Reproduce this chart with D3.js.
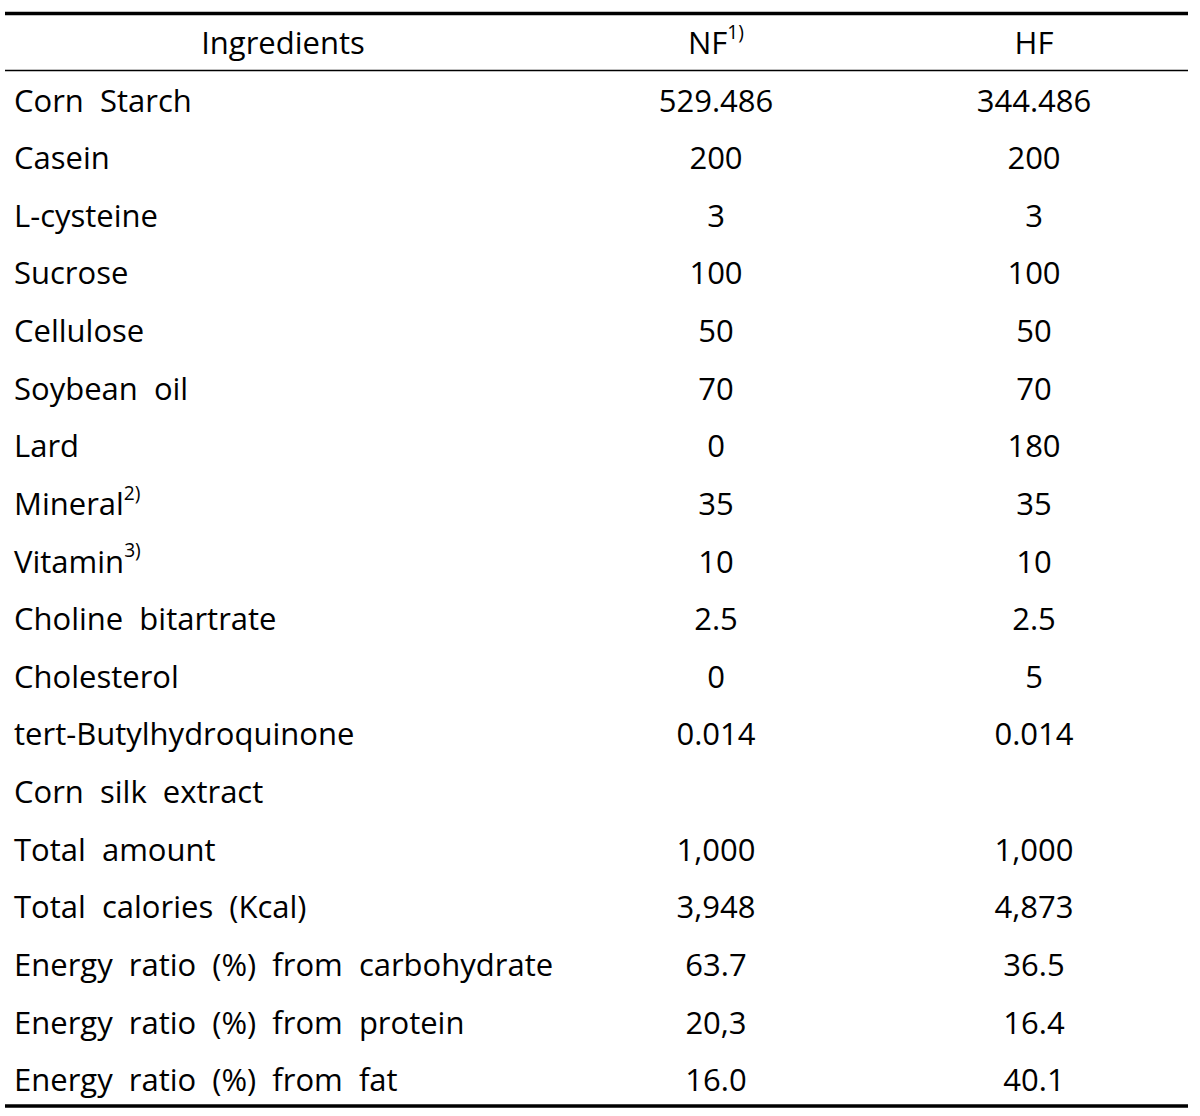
<!DOCTYPE html>
<html><head><meta charset="utf-8">
<script src="https://cdn.jsdelivr.net/npm/d3@7"></script>
<style>body{margin:0;background:#fff}</style>
</head><body>
<svg id="c" width="1200" height="1116"></svg>
<script>
const headers = ["Ingredients", "NF", "HF"];
const headerSup = ["", "1)", ""];
const categories = ["Corn  Starch","Casein","L-cysteine","Sucrose","Cellulose","Soybean  oil","Lard","Mineral","Vitamin","Choline  bitartrate","Cholesterol","tert-Butylhydroquinone","Corn  silk  extract","Total  amount","Total  calories  (Kcal)","Energy  ratio  (%)  from  carbohydrate","Energy  ratio  (%)  from  protein","Energy  ratio  (%)  from  fat"];
const categorySup = ["","","","","","","","2)","3)","","","","","","","","",""];
const nfValues = ["529.486","200","3","100","50","70","0","35","10","2.5","0","0.014","","1,000","3,948","63.7","20,3","16.0"];
const hfValues = ["344.486","200","3","100","50","70","180","35","10","2.5","5","0.014","","1,000","4,873","36.5","16.4","40.1"];

const svg = d3.select("#c");
const font = "'Open Sans', sans-serif";
const fs = 31;
const rows = ["__header"].concat(categories.map((d,i)=>"r"+i));
const y = d3.scaleBand().domain(rows).range([14, 1108.8]);
const x = d3.scaleOrdinal().domain(["cat","nf","hf"]).range([14, 716, 1034]);

// rules
svg.append("line").attr("x1",5).attr("x2",1188).attr("y1",13.5).attr("y2",13.5).attr("stroke","#000").attr("stroke-width",3.5);
svg.append("line").attr("x1",5).attr("x2",1188).attr("y1",70.5).attr("y2",70.5).attr("stroke","#000").attr("stroke-width",1.6);
svg.append("line").attr("x1",5).attr("x2",1188).attr("y1",1106).attr("y2",1106).attr("stroke","#000").attr("stroke-width",3.5);

const g = svg.append("g").attr("font-family",font).attr("font-size",fs).attr("fill","#000");

function addText(xp, yp, txt, sup, anchor){
  const t = g.append("text").attr("x",xp).attr("y",yp).attr("dy","0.36em").attr("text-anchor",anchor).style("white-space","pre");
  t.append("tspan").text(txt);
  if (sup) t.append("tspan").attr("font-size",fs*0.62).attr("dy","-0.8em").text(sup);
}
const hy = y("__header")+y.bandwidth()/2;
addText(283, hy, headers[0], headerSup[0], "middle");
addText(x("nf"), hy, headers[1], headerSup[1], "middle");
addText(x("hf"), hy, headers[2], headerSup[2], "middle");

categories.forEach((c,i)=>{
  const yy = y("r"+i)+y.bandwidth()/2;
  addText(x("cat"), yy, c, categorySup[i], "start");
  addText(x("nf"), yy, nfValues[i], "", "middle");
  addText(x("hf"), yy, hfValues[i], "", "middle");
});
</script>
</body></html>
